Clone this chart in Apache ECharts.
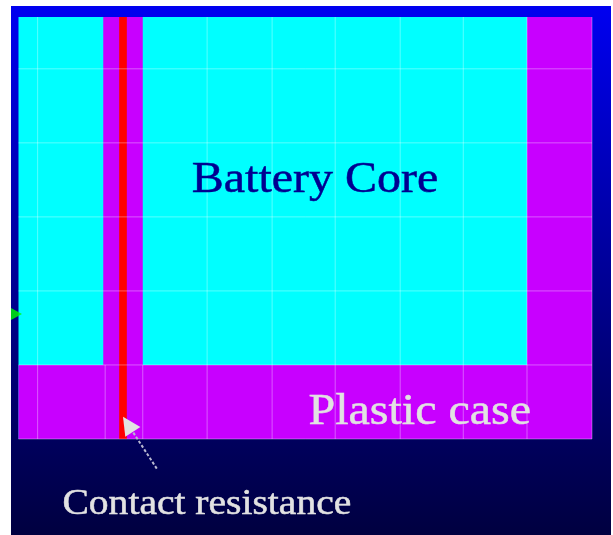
<!DOCTYPE html>
<html><head><meta charset="utf-8">
<style>html,body{margin:0;padding:0;background:#fff}#c{width:613px;height:535px;filter:blur(0.7px)}</style>
<script src="https://cdn.jsdelivr.net/npm/echarts@6/dist/echarts.min.js"></script>
</head><body><div id="c"></div>
<script>
// Regions: [x0, x1, y0, y1, colour key]
const regions = [
  [0, 90, 0, 57, 'core'],
  [13.3, 19.5, 10, 57, 'case'],
  [79.8, 90, 10, 57, 'case'],
  [0, 90, 0, 10, 'case'],
  [15.8, 17.0, 0, 57, 'contact']
];
// Mesh lines: [position, upper end on the other axis]
const meshX = [[3,57],[13.6,10],[19.5,10],[29.6,57],[39.8,57],[49.7,57],[59.9,57],[69.8,57],[79.8,57],[90,57]];
const meshY = [0, 10, 20, 30, 40, 50];
// Labels: [text, x, y, colour key, font size, horizontal stretch]
const labels = [
  ['Battery Core', 27.2, 32, 'text', 44, 1.09],
  ['Plastic case', 45.5, 0.6, 'light', 45, 1.067],
  ['Contact resistance', 6.9, -11.2, 'light', 35, 1.13]
];
const arrowTail = [21.7, -4];
const arrowHead = [16.4, 3];
const sourcePoint = [[0, 16.9]];
const colours = {core:'#00ffff', case:'#c800ff', contact:'#ff0000', light:'#e2e2e2', text:'#000090'};

const chart = echarts.init(document.getElementById('c'), null, {renderer:'canvas'});
chart.setOption({
  animation:false,
  backgroundColor:'#fff',
  graphic:[{type:'rect',z:-10,silent:true,shape:{x:11,y:6,width:600,height:529},
    style:{fill:new echarts.graphic.LinearGradient(0,0,0,1,[
      {offset:0,color:'#0000f0'},{offset:0.5,color:'#000098'},{offset:0.85,color:'#000058'},{offset:1,color:'#000040'}])}}],
  grid:{left:18.5,top:17,width:573.5,height:422},
  xAxis:{type:'value',min:0,max:90,show:false},
  yAxis:{type:'value',min:0,max:57,show:false},
  series:[
    {type:'custom',z:1,clip:false,data:regions,
      encode:{x:[0,1],y:[2,3]},
      renderItem(p,api){
        const a=api.coord([api.value(0),api.value(2)]),b=api.coord([api.value(1),api.value(3)]);
        return {type:'rect',shape:{x:a[0],y:b[1],width:b[0]-a[0],height:a[1]-b[1]},
          style:{fill:colours[regions[p.dataIndex][4]]}};
      }},
    {type:'custom',z:2,clip:false,data:meshX,encode:{x:0},
      renderItem(p,api){
        const a=api.coord([api.value(0),0]),b=api.coord([api.value(0),api.value(1)]);
        return {type:'line',shape:{x1:a[0],y1:a[1],x2:b[0],y2:b[1]},
          style:{stroke:'rgba(255,255,255,0.35)',lineWidth:1}};
      }},
    {type:'custom',z:2,clip:false,data:meshY.map(v=>[v]),encode:{y:0},
      renderItem(p,api){
        const a=api.coord([0,api.value(0)]),b=api.coord([90,api.value(0)]);
        return {type:'line',shape:{x1:a[0],y1:a[1],x2:b[0],y2:b[1]},
          style:{stroke:'rgba(255,255,255,0.35)',lineWidth:1}};
      }},
    {type:'scatter',z:3,clip:false,data:sourcePoint,symbol:'triangle',symbolSize:[12,11],symbolRotate:-90,
      symbolOffset:[-2,0],itemStyle:{color:'#00ff00'}},
    {type:'custom',z:4,clip:false,data:[[...arrowTail,...arrowHead]],encode:{x:[0,2],y:[1,3]},
      renderItem(p,api){
        const t=api.coord([api.value(0),api.value(1)]),h=api.coord([api.value(2),api.value(3)]);
        const L=Math.hypot(t[0]-h[0],t[1]-h[1]),ux=(t[0]-h[0])/L,uy=(t[1]-h[1])/L;
        const bx=h[0]+ux*18,by=h[1]+uy*18,nx=-uy*9,ny=ux*9;
        return {type:'group',children:[
          {type:'line',shape:{x1:t[0],y1:t[1],x2:bx,y2:by},style:{stroke:'#b8b8d0',lineWidth:2,lineDash:[3,2]}},
          {type:'polygon',shape:{points:[h,[bx+nx,by+ny],[bx-nx,by-ny]]},style:{fill:'#e2e2e2'}}
        ]};
      }},
    {type:'custom',z:5,clip:false,data:labels.map(l=>[l[1],l[2]]),encode:{x:0,y:1},
      renderItem(p,api){
        const l=labels[p.dataIndex],c=api.coord([api.value(0),api.value(1)]);
        return {type:'text',x:c[0],y:c[1],scaleX:l[5],style:{text:l[0],fontFamily:'Liberation Serif',fontSize:l[4],
          fill:colours[l[3]],stroke:colours[l[3]],lineWidth:0.5,textAlign:'left',textVerticalAlign:'bottom'}};
      }}
  ]
});
</script></body></html>
